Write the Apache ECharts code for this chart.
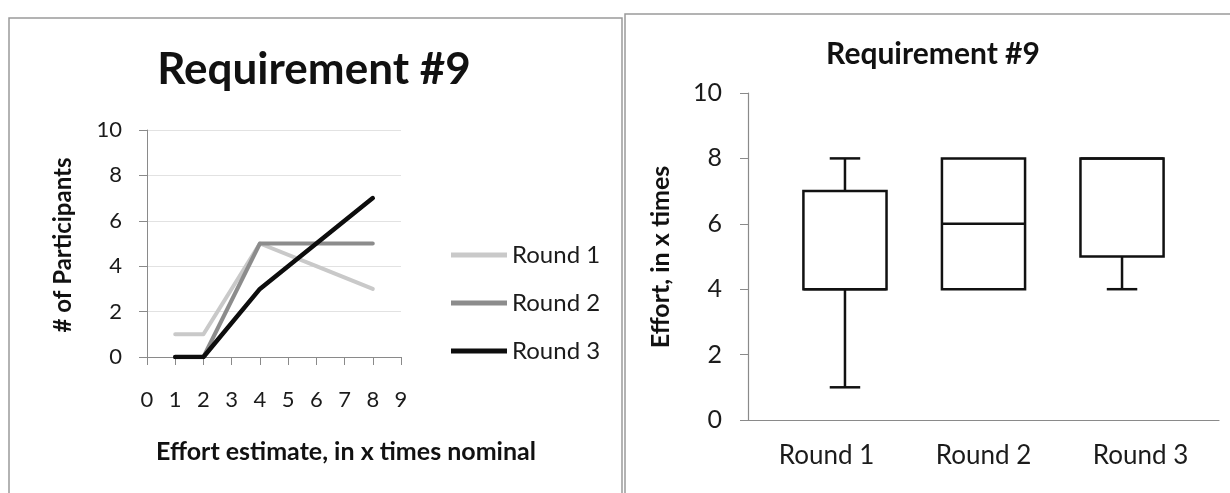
<!DOCTYPE html>
<html>
<head>
<meta charset="utf-8">
<script src="https://cdn.jsdelivr.net/npm/echarts@6/dist/echarts.min.js"></script>
<style>
  html, body { margin: 0; padding: 0; background: #fff; }
  #chart { width: 1230px; height: 493px; }
</style>
</head>
<body>
<div id="chart"></div>
<script>
// Left panel: participant counts per effort estimate, one line per round
const effortLevels = [1, 2, 4, 6, 8];
const round1Counts = [1, 1, 5, 4, 3];
const round2Counts = [0, 0, 5, 5, 5];
const round3Counts = [0, 0, 3, 5, 7];
const lineRoundNames = ['Round 1', 'Round 2', 'Round 3'];
const countTicks = { min: 0, max: 10, interval: 2 };
const effortTicks = { min: 0, max: 9, interval: 1 };

// Right panel: box-and-whisker summary of effort estimates per round
const boxRounds = ['Round 1', 'Round 2', 'Round 3'];
const boxMin = [1, 4, 4];
const boxQ1 = [4, 4, 5];
const boxMedian = [4, 6, 8];
const boxQ3 = [7, 8, 8];
const boxMax = [8, 8, 8];
const effortAxisTicks = { min: 0, max: 10, interval: 2 };

const FONT = 'Lato, "Open Sans", sans-serif';
const TEXT = '#1b1b1b';
const AXIS = '#8a8a8a';
const lineColors = ['#c9c9c9', '#8c8c8c', '#0d0d0d'];
const lineWidths = [4, 4, 4.5];

const BOX_WIDTH = 0.6;   // in round units
const CAP_WIDTH = 0.22;

const lineData = [round1Counts, round2Counts, round3Counts].map(counts =>
  effortLevels.map((x, i) => [x, counts[i]])
);
const boxData = boxRounds.map((r, i) => [i + 1, boxMin[i], boxQ1[i], boxMedian[i], boxQ3[i], boxMax[i]]);

const chart = echarts.init(document.getElementById('chart'), null, { renderer: 'canvas' });

function renderBox(params, api) {
  const x = api.value(0);
  const lo = api.coord([x, api.value(1)]);
  const q1 = api.coord([x, api.value(2)]);
  const med = api.coord([x, api.value(3)]);
  const q3 = api.coord([x, api.value(4)]);
  const hi = api.coord([x, api.value(5)]);
  const half = api.size([BOX_WIDTH, 0])[0] / 2;
  const capHalf = api.size([CAP_WIDTH, 0])[0] / 2;
  const cx = q1[0];
  const stroke = { stroke: '#111', lineWidth: 2.5, fill: null };
  const children = [];
  if (api.value(5) > api.value(4)) {
    children.push({ type: 'line', shape: { x1: cx, y1: q3[1], x2: cx, y2: hi[1] }, style: stroke });
    children.push({ type: 'line', shape: { x1: cx - capHalf, y1: hi[1], x2: cx + capHalf, y2: hi[1] }, style: stroke });
  }
  if (api.value(1) < api.value(2)) {
    children.push({ type: 'line', shape: { x1: cx, y1: q1[1], x2: cx, y2: lo[1] }, style: stroke });
    children.push({ type: 'line', shape: { x1: cx - capHalf, y1: lo[1], x2: cx + capHalf, y2: lo[1] }, style: stroke });
  }
  children.push({
    type: 'rect',
    shape: { x: cx - half, y: q3[1], width: half * 2, height: q1[1] - q3[1] },
    style: { stroke: '#111', lineWidth: 2.5, fill: '#fff' }
  });
  children.push({ type: 'line', shape: { x1: cx - half, y1: med[1], x2: cx + half, y2: med[1] }, style: stroke });
  return { type: 'group', children };
}

const option = {
  backgroundColor: '#fff',
  animation: false,
  textStyle: { fontFamily: FONT },
  graphic: [
    // panel frames
    { type: 'rect', shape: { x: 9, y: 18, width: 613, height: 490 }, style: { fill: null, stroke: '#9a9a9a', lineWidth: 1.5 }, silent: true },
    { type: 'rect', shape: { x: 625, y: 14, width: 620, height: 490 }, style: { fill: null, stroke: '#9a9a9a', lineWidth: 1.5 }, silent: true },
    // titles
    { type: 'text', x: 314, y: 70, style: { text: 'Requirement #9', font: 'bold 44px ' + FONT, fill: '#111', align: 'center', verticalAlign: 'middle' } },
    { type: 'text', x: 933, y: 54, style: { text: 'Requirement #9', font: 'bold 30px ' + FONT, fill: '#111', align: 'center', verticalAlign: 'middle' } },
    // axis names
    { type: 'text', x: 63, y: 245, rotation: Math.PI / 2, style: { text: '# of Participants', font: 'bold 24px ' + FONT, fill: '#111', align: 'center', verticalAlign: 'middle' } },
    { type: 'text', x: 346, y: 452, style: { text: 'Effort estimate, in x times nominal', font: 'bold 25px ' + FONT, fill: '#111', align: 'center', verticalAlign: 'middle' } },
    { type: 'text', x: 661, y: 257, rotation: Math.PI / 2, style: { text: 'Effort, in x times', font: 'bold 25px ' + FONT, fill: '#111', align: 'center', verticalAlign: 'middle' } }
  ],
  legend: {
    data: lineRoundNames,
    orient: 'vertical',
    left: 446,
    top: 236,
    icon: 'rect',
    itemWidth: 56,
    itemHeight: 5,
    itemGap: 20,
    textStyle: { fontFamily: FONT, fontSize: 24, color: TEXT, lineHeight: 28 }
  },
  grid: [
    { left: 147, top: 130, width: 254, height: 227 },
    { left: 748, top: 93, width: 471, height: 327 }
  ],
  xAxis: [
    {
      gridIndex: 0, type: 'value', min: effortTicks.min, max: effortTicks.max, interval: effortTicks.interval,
      axisLine: { show: true, lineStyle: { color: AXIS, width: 1 } },
      axisTick: { show: true, inside: false, length: 8, lineStyle: { color: AXIS } },
      splitLine: { show: false },
      axisLabel: { fontFamily: FONT, fontSize: 22, color: TEXT, margin: 32 }
    },
    {
      gridIndex: 1, type: 'category', data: boxRounds, boundaryGap: true,
      axisLine: { show: true, lineStyle: { color: AXIS, width: 1.2 } },
      axisTick: { show: false },
      axisLabel: { fontFamily: FONT, fontSize: 26, color: TEXT, margin: 23 }
    },
    {
      gridIndex: 1, type: 'value', min: 0.3, max: 3.7, show: false
    }
  ],
  yAxis: [
    {
      gridIndex: 0, type: 'value', min: countTicks.min, max: countTicks.max, interval: countTicks.interval,
      axisLine: { show: true, lineStyle: { color: AXIS, width: 1 } },
      axisTick: { show: true, inside: false, length: 8, lineStyle: { color: AXIS } },
      splitLine: { show: true, lineStyle: { color: '#e2e2e2', width: 1 } },
      axisLabel: { fontFamily: FONT, fontSize: 22, color: TEXT, margin: 25 }
    },
    {
      gridIndex: 1, type: 'value', min: effortAxisTicks.min, max: effortAxisTicks.max, interval: effortAxisTicks.interval,
      axisLine: { show: true, lineStyle: { color: AXIS, width: 1.2 } },
      axisTick: { show: true, inside: false, length: 8, lineStyle: { color: AXIS } },
      splitLine: { show: false },
      axisLabel: { fontFamily: FONT, fontSize: 25, color: TEXT, margin: 26 }
    }
  ],
  series: [
    ...lineRoundNames.map((name, i) => ({
      name,
      type: 'line',
      xAxisIndex: 0,
      yAxisIndex: 0,
      data: lineData[i],
      symbol: 'none',
      color: lineColors[i],
      lineStyle: { color: lineColors[i], width: lineWidths[i], cap: 'round', join: 'round' },
      z: 2 + i
    })),
    {
      name: 'Effort',
      type: 'custom',
      xAxisIndex: 2,
      yAxisIndex: 1,
      data: boxData,
      encode: { x: 0, y: [1, 2, 3, 4, 5] },
      renderItem: renderBox,
      z: 5
    }
  ]
};

chart.setOption(option);
</script>
</body>
</html>
